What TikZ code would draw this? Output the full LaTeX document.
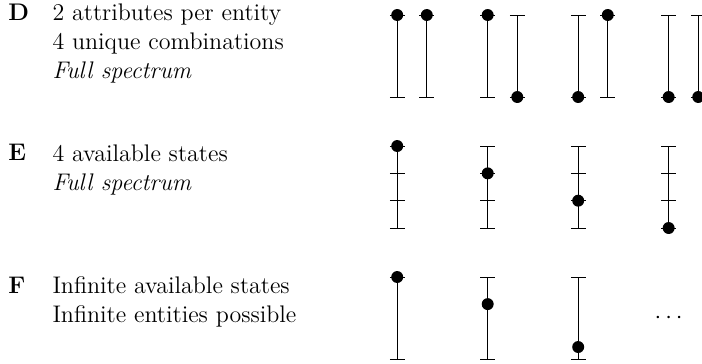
\documentclass[tikz,border=0pt,12pt]{standalone}

\begin{document}
\begin{tikzpicture}[line width=0.5pt]
  \useasboundingbox (0,0) rectangle (12.336,6.379);
  % row D: two bars per entity, dot at top or bottom
  \foreach \x/\da/\db in {6.98/6.115/6.115, 8.57/6.115/4.674, 10.16/4.674/6.115, 11.75/4.674/4.674}{
    \foreach \dx/\dy in {0/\da, 0.52/\db}{
      \draw (\x+\dx,4.674) -- (\x+\dx,6.115);
      \draw (\x+\dx-0.13,6.115) -- (\x+\dx+0.13,6.115);
      \draw (\x+\dx-0.13,4.674) -- (\x+\dx+0.13,4.674);
      \fill (\x+\dx,\dy) circle (0.105);
    }
  }
  % row E: four discrete states on one bar
  \foreach \x/\k in {6.98/0, 8.57/1, 10.16/2, 11.75/3}{
    \draw (\x,2.372) -- (\x,3.813);
    \foreach \t in {0,1,2,3}{
      \draw (\x-0.13,3.813-\t*0.4803) -- (\x+0.13,3.813-\t*0.4803);
    }
    \fill (\x,3.813-\k*0.4803) circle (0.105);
  }
  % row F: continuous bar, dot anywhere
  \foreach \x/\dy in {6.98/1.511, 8.57/1.035, 10.16/0.281}{
    \draw (\x,0.070) -- (\x,1.511);
    \draw (\x-0.13,1.511) -- (\x+0.13,1.511);
    \draw (\x-0.13,0.070) -- (\x+0.13,0.070);
    \fill (\x,\dy) circle (0.105);
  }
  \node (more) at (11.75,0.79) {$\cdots$};
  % labels (base = last line of each block)
  \node[anchor=base west, inner sep=0pt] (labD) at (0.14,6.010) {\textbf{D}};
  \node[anchor=base west, inner sep=0pt, align=left] (txtD) at (0.914,4.991)
    {2 attributes per entity\\4 unique combinations\\\textit{Full spectrum}};
  \node[anchor=base west, inner sep=0pt] (labE) at (0.14,3.550) {\textbf{E}};
  \node[anchor=base west, inner sep=0pt, align=left] (txtE) at (0.914,3.040)
    {4 available states\\\textit{Full spectrum}};
  \node[anchor=base west, inner sep=0pt] (labF) at (0.14,1.230) {\textbf{F}};
  \node[anchor=base west, inner sep=0pt, align=left] (txtF) at (0.914,0.720)
    {Infinite available states\\Infinite entities possible};
\end{tikzpicture}
\end{document}
